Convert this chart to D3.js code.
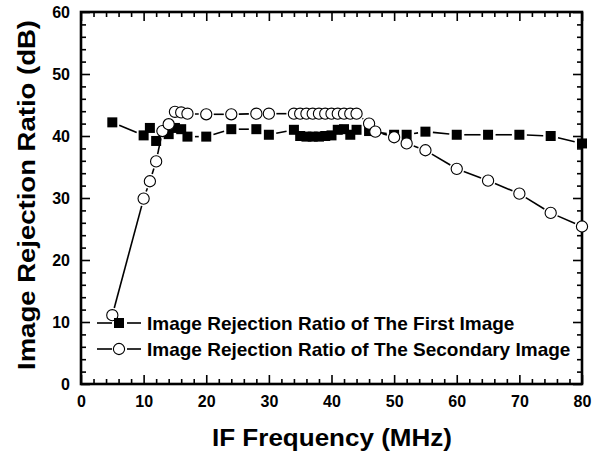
<!DOCTYPE html>
<html>
<head>
<meta charset="utf-8">
<script src="https://cdn.jsdelivr.net/npm/d3@7"></script>
<style>
  body { margin: 0; background: #fff; }
  text { font-family: "Liberation Sans", Arial, sans-serif; font-weight: bold; fill: #000; }
</style>
</head>
<body>
<div id="chart"></div>
<script>
// data
var firstFreq = [5, 10, 11, 12, 14, 15, 16, 17, 20, 24, 28, 30, 34, 35, 36, 37, 38, 39, 40, 41, 42, 43, 44, 46, 50, 52, 55, 60, 65, 70, 75, 80];
var firstIRR = [42.2, 40.1, 41.3, 39.2, 40.3, 41.3, 41.1, 39.9, 39.9, 41.1, 41.1, 40.2, 41.0, 40.0, 39.9, 39.9, 39.9, 40.0, 40.1, 41.0, 41.1, 40.2, 41.0, 40.8, 40.2, 40.2, 40.7, 40.2, 40.2, 40.2, 40.0, 38.8];

var secondFreq = [5, 10, 11, 12, 13, 14, 15, 16, 17, 20, 24, 28, 30, 34, 35, 36, 37, 38, 39, 40, 41, 42, 43, 44, 46, 47, 50, 52, 55, 60, 65, 70, 75, 80];
var secondIRR = [11.1, 29.9, 32.7, 35.9, 40.8, 41.9, 43.9, 43.8, 43.6, 43.5, 43.5, 43.6, 43.6, 43.6, 43.6, 43.6, 43.6, 43.6, 43.6, 43.6, 43.6, 43.6, 43.6, 43.6, 42.0, 40.7, 39.8, 38.8, 37.7, 34.7, 32.8, 30.7, 27.6, 25.4];

var seriesNames = ["Image Rejection Ratio of The First Image", "Image Rejection Ratio of The Secondary Image"];
var xTicks = [0, 10, 20, 30, 40, 50, 60, 70, 80];
var yTicks = [0, 10, 20, 30, 40, 50, 60];

var W = 602, H = 459;
var plot = { left: 81, right: 582, top: 12, bottom: 384 };

var svg = d3.select("#chart").append("svg")
    .attr("width", W)
    .attr("height", H);

var x = d3.scaleLinear().domain([0, 80]).range([plot.left, plot.right]);
var y = d3.scaleLinear().domain([0, 60]).range([plot.bottom, plot.top]);

var minorX = d3.range(0, 81, 2).filter(function(d) { return d % 10 != 0; });
var minorY = d3.range(0, 61, 2).filter(function(d) { return d % 10 != 0; });

function styleAxis(g) {
    g.select(".domain").remove();
    g.selectAll("line").attr("stroke", "#000").attr("stroke-width", 1.6);
}

// minor ticks, all four sides, pointing in
svg.append("g").attr("transform", "translate(0," + plot.bottom + ")")
    .call(d3.axisBottom(x).tickValues(minorX).tickSize(-5).tickFormat(""))
    .call(styleAxis);
svg.append("g").attr("transform", "translate(0," + plot.top + ")")
    .call(d3.axisTop(x).tickValues(minorX).tickSize(-5).tickFormat(""))
    .call(styleAxis);
svg.append("g").attr("transform", "translate(" + plot.left + ",0)")
    .call(d3.axisLeft(y).tickValues(minorY).tickSize(-5).tickFormat(""))
    .call(styleAxis);
svg.append("g").attr("transform", "translate(" + plot.right + ",0)")
    .call(d3.axisRight(y).tickValues(minorY).tickSize(-5).tickFormat(""))
    .call(styleAxis);

// major ticks with labels
var xAxis = svg.append("g").attr("transform", "translate(0," + plot.bottom + ")")
    .call(d3.axisBottom(x).tickValues(xTicks).tickSize(-9))
    .call(styleAxis);
xAxis.selectAll("text").attr("y", 12).attr("dy", "0.71em");

svg.append("g").attr("transform", "translate(0," + plot.top + ")")
    .call(d3.axisTop(x).tickValues(xTicks).tickSize(-9).tickFormat(""))
    .call(styleAxis);

var yAxis = svg.append("g").attr("transform", "translate(" + plot.left + ",0)")
    .call(d3.axisLeft(y).tickValues(yTicks).tickSize(-9))
    .call(styleAxis);
yAxis.selectAll("text").attr("x", -11);

svg.append("g").attr("transform", "translate(" + plot.right + ",0)")
    .call(d3.axisRight(y).tickValues(yTicks).tickSize(-9).tickFormat(""))
    .call(styleAxis);

svg.selectAll(".tick text")
    .attr("font-family", null)
    .attr("font-size", null)
    .style("font-size", "16px")
    .style("font-weight", "bold")
    .attr("fill", "#000");

// frame
svg.append("rect")
    .attr("x", plot.left).attr("y", plot.top)
    .attr("width", plot.right - plot.left).attr("height", plot.bottom - plot.top)
    .attr("fill", "none").attr("stroke", "#000").attr("stroke-width", 2.6);

// line broken around each symbol (Origin style)
var gap = 7.5;
function gappedSegments(pts) {
    var segs = [];
    for (var i = 0; i < pts.length - 1; i++) {
        var a = pts[i], b = pts[i + 1];
        var dx = b[0] - a[0], dy = b[1] - a[1];
        var len = Math.sqrt(dx * dx + dy * dy);
        if (len <= 2 * gap + 0.5) continue;
        var ux = dx / len, uy = dy / len;
        segs.push([a[0] + ux * gap, a[1] + uy * gap, b[0] - ux * gap, b[1] - uy * gap]);
    }
    return segs;
}

function drawLine(xs, ys) {
    var pts = xs.map(function(d, i) { return [x(d), y(ys[i])]; });
    svg.append("g").selectAll("line")
        .data(gappedSegments(pts))
        .enter().append("line")
        .attr("x1", function(d) { return d[0]; })
        .attr("y1", function(d) { return d[1]; })
        .attr("x2", function(d) { return d[2]; })
        .attr("y2", function(d) { return d[3]; })
        .attr("stroke", "#000")
        .attr("stroke-width", 1.6);
}

drawLine(firstFreq, firstIRR);
drawLine(secondFreq, secondIRR);

var sq = 10, rad = 5.6;

svg.append("g").selectAll("rect")
    .data(firstFreq)
    .enter().append("rect")
    .attr("x", function(d) { return x(d) - sq / 2; })
    .attr("y", function(d, i) { return y(firstIRR[i]) - sq / 2; })
    .attr("width", sq).attr("height", sq)
    .attr("fill", "#000");

svg.append("g").selectAll("circle")
    .data(secondFreq)
    .enter().append("circle")
    .attr("cx", function(d) { return x(d); })
    .attr("cy", function(d, i) { return y(secondIRR[i]); })
    .attr("r", rad)
    .attr("fill", "#fff")
    .attr("stroke", "#000")
    .attr("stroke-width", 1.1);

// legend
var legend = svg.selectAll(".legend")
    .data(seriesNames)
    .enter().append("g")
    .attr("class", "legend")
    .attr("transform", function(d, i) { return "translate(0," + (323 + i * 26) + ")"; });

legend.append("line").attr("x1", 97).attr("x2", 112).attr("stroke", "#000").attr("stroke-width", 1.6);
legend.append("line").attr("x1", 127).attr("x2", 141).attr("stroke", "#000").attr("stroke-width", 1.6);

legend.filter(function(d, i) { return i == 0; }).append("rect")
    .attr("x", 119 - sq / 2).attr("y", -sq / 2)
    .attr("width", sq).attr("height", sq)
    .attr("fill", "#000");

legend.filter(function(d, i) { return i == 1; }).append("circle")
    .attr("cx", 119).attr("cy", 0).attr("r", rad)
    .attr("fill", "#fff").attr("stroke", "#000").attr("stroke-width", 1.1);

legend.append("text")
    .attr("x", 147)
    .attr("y", 7)
    .style("font-size", "19px")
    .text(function(d) { return d; });

// axis titles
svg.append("text")
    .attr("x", 332)
    .attr("y", 446)
    .attr("text-anchor", "middle")
    .attr("textLength", 240)
    .attr("lengthAdjust", "spacingAndGlyphs")
    .style("font-size", "24px")
    .text("IF Frequency (MHz)");

svg.append("text")
    .attr("transform", "translate(35,195) rotate(-90)")
    .attr("text-anchor", "middle")
    .attr("textLength", 350)
    .attr("lengthAdjust", "spacingAndGlyphs")
    .style("font-size", "24px")
    .text("Image Rejection Ratio (dB)");
</script>
</body>
</html>
